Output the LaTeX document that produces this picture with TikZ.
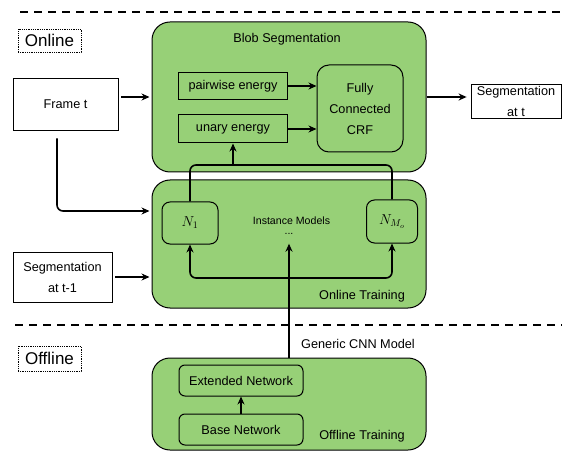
\documentclass[tikz,border=0pt]{standalone}
\usepackage{fontspec}
\setmainfont{Liberation Sans}
\usetikzlibrary{arrows.meta}
\definecolor{drawgreen}{HTML}{97D077}
\tikzset{
  >={Stealth[length=8pt,width=7pt]},
  stage/.style={draw, fill=drawgreen, rounded corners=18pt, line width=1pt, inner sep=0pt},
  part/.style={draw, fill=drawgreen, line width=1pt, inner sep=0pt, align=center, font=\fontsize{12.7}{21}\selectfont},
  io/.style={draw, fill=white, line width=0.8pt, inner sep=0pt, align=center, font=\fontsize{12.7}{21}\selectfont},
  tag/.style={draw, densely dotted, line width=0.8pt, inner sep=0pt, font=\fontsize{17}{20}\selectfont},
  lbl/.style={font=\fontsize{12.7}{15}\selectfont, inner sep=0pt},
  link/.style={line width=1.6pt, rounded corners=6pt},
  sep/.style={line width=1.6pt, dash pattern=on 8pt off 6pt},
}
\begin{document}
\begin{tikzpicture}[x=1pt,y=-1pt]
  \useasboundingbox (0,0) rectangle (564,462);

  % online / offline split
  \draw [sep] (20,12) -- (562,12);
  \draw [sep] (15,325) -- (562,325);
  \node [tag, minimum width=63, minimum height=23] (online tag) at (49.5,40.5) {Online};
  \node [tag, minimum width=63, minimum height=25] (offline tag) at (49.5,358.5) {Offline};

  % blob segmentation
  \node [stage, minimum width=274, minimum height=150] (blob) at (289,97) {};
  \node [lbl] (blob title) at (287,39) {Blob Segmentation};
  \node [part, minimum width=109, minimum height=27] (pair) at (233,86) {pairwise energy};
  \node [part, minimum width=109, minimum height=28] (unary) at (233,129) {unary energy};
  \node [part, rounded corners=12pt, minimum width=86, minimum height=87] (crf) at (360,108.5) {Fully\\Connected\\CRF};

  % inputs and output
  \node [io, minimum width=105, minimum height=52] (frame) at (65.5,104) {Frame t};
  \node [io, minimum width=90, minimum height=34] (seg) at (516,101) {Segmentation\\at t};
  \node [io, minimum width=99, minimum height=50] (seg prev) at (62.5,277) {Segmentation\\at t-1};

  % online training
  \node [stage, minimum width=274, minimum height=128] (train) at (289,244) {};
  \node [part, rounded corners=8pt, minimum width=56, minimum height=42, font=\fontsize{14}{16}\selectfont] (n1) at (190,223) {$N_1$};
  \node [part, rounded corners=8pt, minimum width=51, minimum height=43, font=\fontsize{14}{16}\selectfont] (nmo) at (392,221.5) {$N_{M_o}$};
  \node [lbl, font=\fontsize{10.6}{12}\selectfont] (instances) at (291.5,221) {Instance Models};
  \node [lbl, font=\fontsize{10.6}{12}\selectfont, text height=3pt, text depth=0pt] (dots) at (289,233) {...};
  \node [lbl] (train title) at (362,296) {Online Training};

  % offline training
  \node [stage, minimum width=274, minimum height=92] (offline) at (289,404) {};
  \node [part, rounded corners=6pt, minimum width=124, minimum height=31] (ext) at (241,380.5) {Extended Network};
  \node [part, rounded corners=6pt, minimum width=124, minimum height=31] (base) at (241,429.5) {Base Network};
  \node [lbl] (offline title) at (362,436) {Offline Training};
  \node [lbl] (generic) at (358,344) {Generic CNN Model};

  \coordinate (merge) at (233,165);
  \coordinate (split) at (289,278);

  \draw [link, ->, shorten <=3pt, shorten >=2pt] (frame.east |- blob.west) -- (blob.west);
  \draw [link, ->, shorten >=4pt] (blob.east) -- (blob.east -| seg.west);
  \draw [link, ->] (pair.east) -- (pair.east -| crf.west);
  \draw [link, ->] (unary.east) -- (unary.east -| crf.west);
  \draw [link, ->, shorten <=8pt, shorten >=2pt] ([xshift=-8.5pt]frame.south) |- ([yshift=33pt]train.west);
  \draw [link, ->, shorten <=3pt, shorten >=2pt] (seg prev.east) -- (seg prev.east -| train.west);

  \draw [link] (n1.north) |- (merge) -| (nmo.north);
  \draw [link, ->] (merge) -- (unary.south);
  \draw [link, ->] (split) -| (n1.south);
  \draw [link, ->] (split) -| (nmo.south);
  \draw [link, ->] (offline.north) -- ([yshift=-9pt]dots.south);
  \draw [link, ->] (base.north) -- (ext.south);
\end{tikzpicture}
\end{document}
